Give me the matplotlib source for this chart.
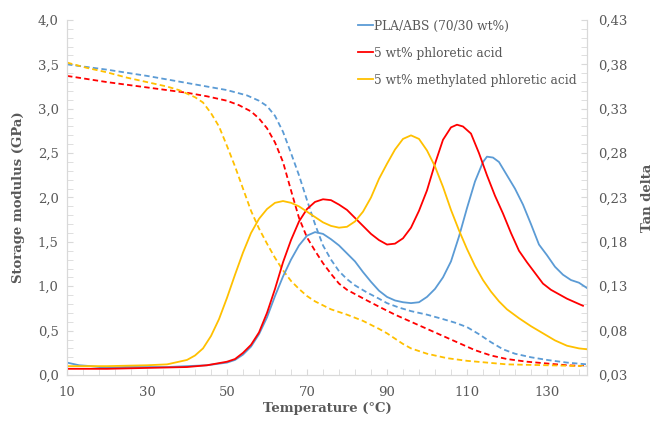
#Storage modulus and tan delta vs temperature (DMA)

import matplotlib
matplotlib.use("Agg")
import matplotlib.pyplot as plt
from matplotlib.ticker import MultipleLocator, FuncFormatter

#series names
labels = ["PLA/ABS (70/30 wt%)", "5 wt% phloretic acid", "5 wt% methylated phloretic acid"]
colors = ["#5B9BD5", "#FF0000", "#FFC000"]

#storage modulus (GPa) - dashed lines, left axis
T_E_blue = [10, 20, 30, 40, 45, 50, 55, 58, 60, 62, 64, 66, 68, 70, 72, 74, 76, 78, 80, 82, 85, 88, 90, 93, 96,
            100, 104, 107, 110, 113, 116, 119, 122, 126, 130, 135, 140]
E_blue = [3.50, 3.44, 3.37, 3.29, 3.25, 3.21, 3.15, 3.09, 3.03, 2.92, 2.74, 2.50, 2.25, 1.97, 1.70, 1.46, 1.30,
          1.17, 1.08, 1.01, 0.93, 0.86, 0.81, 0.76, 0.72, 0.68, 0.63, 0.59, 0.54, 0.46, 0.37, 0.29, 0.24, 0.20,
          0.17, 0.14, 0.12]

T_E_red = [10, 20, 30, 40, 45, 50, 53, 56, 58, 60, 62, 64, 66, 68, 70, 72, 74, 76, 78, 80, 85, 88, 92, 96, 100,
           104, 108, 112, 116, 120, 125, 130, 135, 140]
E_red = [3.37, 3.30, 3.24, 3.18, 3.14, 3.09, 3.04, 2.97, 2.89, 2.78, 2.62, 2.40, 2.08, 1.77, 1.55, 1.40, 1.26,
         1.14, 1.03, 0.96, 0.84, 0.77, 0.68, 0.60, 0.52, 0.44, 0.36, 0.28, 0.22, 0.18, 0.15, 0.13, 0.11, 0.10]

T_E_yellow = [10, 15, 20, 25, 30, 35, 38, 40, 42, 44, 46, 48, 50, 52, 54, 56, 58, 60, 62, 64, 66, 68, 70, 72, 76,
              80, 84, 88, 90, 92, 94, 96, 100, 105, 110, 115, 120, 130, 140]
E_yellow = [3.52, 3.46, 3.41, 3.35, 3.30, 3.25, 3.21, 3.17, 3.13, 3.07, 2.95, 2.80, 2.58, 2.35, 2.10, 1.85, 1.65,
            1.48, 1.32, 1.18, 1.06, 0.97, 0.89, 0.83, 0.74, 0.68, 0.61, 0.52, 0.47, 0.41, 0.35, 0.30, 0.24, 0.19,
            0.16, 0.14, 0.12, 0.11, 0.10]

#tan delta - solid lines, right axis
T_tan_blue = [10, 13, 16, 20, 25, 30, 35, 40, 45, 50, 52, 54, 56, 58, 60, 62, 64, 66, 68, 70, 72, 74, 76, 78, 80,
              82, 84, 86, 88, 90, 92, 94, 96, 98, 100, 102, 104, 106, 108, 110, 112, 114, 115, 116.5, 118, 120,
              122, 124, 126, 128, 130, 132, 134, 136, 138, 139, 140]
tan_blue = [0.044, 0.041, 0.040, 0.038, 0.039, 0.039, 0.039, 0.040, 0.041, 0.044, 0.047, 0.053, 0.062, 0.076,
            0.095, 0.119, 0.141, 0.160, 0.176, 0.187, 0.191, 0.189, 0.183, 0.176, 0.167, 0.158, 0.146, 0.135,
            0.125, 0.118, 0.114, 0.112, 0.111, 0.112, 0.118, 0.127, 0.140, 0.158, 0.186, 0.218, 0.248, 0.270,
            0.276, 0.275, 0.270, 0.255, 0.240, 0.222, 0.200, 0.177, 0.165, 0.152, 0.143, 0.137, 0.134, 0.131,
            0.128]

T_tan_red = [10, 20, 30, 40, 45, 50, 52, 54, 56, 58, 60, 62, 64, 66, 68, 70, 72, 74, 76, 78, 80, 82, 84, 86, 88,
             90, 92, 94, 96, 98, 100, 102, 104, 106, 107.5, 109, 111, 113, 115, 117, 119, 121, 123, 125, 127,
             129, 131, 133, 135, 137, 139]
tan_red = [0.037, 0.037, 0.038, 0.039, 0.041, 0.045, 0.048, 0.055, 0.064, 0.078, 0.100, 0.127, 0.157, 0.182,
           0.203, 0.217, 0.225, 0.228, 0.227, 0.222, 0.216, 0.207, 0.198, 0.189, 0.182, 0.177, 0.178, 0.184,
           0.196, 0.215, 0.238, 0.268, 0.295, 0.309, 0.312, 0.310, 0.302, 0.280, 0.255, 0.232, 0.212, 0.190,
           0.170, 0.157, 0.145, 0.133, 0.126, 0.121, 0.116, 0.112, 0.108]

T_tan_yellow = [10, 20, 30, 35, 38, 40, 42, 44, 46, 48, 50, 52, 54, 56, 58, 60, 62, 64, 66, 68, 70, 72, 74, 76,
                78, 80, 82, 84, 86, 88, 90, 92, 94, 96, 98, 100, 102, 104, 106, 108, 110, 112, 114, 116, 118,
                120, 123, 126, 129, 132, 135, 138, 140]
tan_yellow = [0.040, 0.040, 0.041, 0.042, 0.045, 0.047, 0.052, 0.060, 0.074, 0.093, 0.117, 0.143, 0.168, 0.190,
              0.206, 0.217, 0.224, 0.226, 0.224, 0.220, 0.214, 0.208, 0.202, 0.198, 0.196, 0.197, 0.203, 0.214,
              0.230, 0.251, 0.268, 0.284, 0.296, 0.300, 0.296, 0.283, 0.265, 0.242, 0.216, 0.193, 0.172, 0.153,
              0.137, 0.124, 0.113, 0.104, 0.094, 0.085, 0.077, 0.069, 0.063, 0.060, 0.059]

#fonts
plt.rcParams["font.family"] = "DejaVu Serif"
grey = "#595959"
spine = "#D9D9D9"

fig = plt.figure(figsize=(6.54, 4.25), dpi=100)
ax = fig.add_axes([0.1025, 0.1176, 0.795, 0.8354])
ax2 = ax.twinx()

#dashed storage modulus
dash = (0, (3, 1.8))
ax.plot(T_E_blue, E_blue, color=colors[0], linestyle=dash, linewidth=1.3)
ax.plot(T_E_red, E_red, color=colors[1], linestyle=dash, linewidth=1.3)
ax.plot(T_E_yellow, E_yellow, color=colors[2], linestyle=dash, linewidth=1.3)

#solid tan delta
ax2.plot(T_tan_blue, tan_blue, color=colors[0], linewidth=1.3, label=labels[0])
ax2.plot(T_tan_red, tan_red, color=colors[1], linewidth=1.3, label=labels[1])
ax2.plot(T_tan_yellow, tan_yellow, color=colors[2], linewidth=1.3, label=labels[2])

#axis limits and ticks
ax.set_xlim(10, 140)
ax.set_ylim(0, 4.0)
ax2.set_ylim(0.03, 0.43)
ax.set_xticks(list(range(10, 131, 20)))
ax.set_xticks(list(range(10, 141, 4)), minor=True)
ax.yaxis.set_major_locator(MultipleLocator(0.5))
ax.yaxis.set_minor_locator(MultipleLocator(0.1))
ax2.set_yticks([0.03, 0.08, 0.13, 0.18, 0.23, 0.28, 0.33, 0.38, 0.43])
ax2.set_yticks([0.03 + i * 0.01 for i in range(41)], minor=True)

#comma decimals
ax.yaxis.set_major_formatter(FuncFormatter(lambda v, p: f"{v:.1f}".replace(".", ",")))
ax2.yaxis.set_major_formatter(FuncFormatter(lambda v, p: f"{v:.2f}".replace(".", ",")))

for a in (ax, ax2):
    for s in a.spines.values():
        s.set_color(spine)
    a.spines["top"].set_visible(False)
    a.tick_params(which="both", direction="in", color=spine, labelcolor=grey, labelsize=9.5, length=4)
ax.tick_params(axis="x", pad=8)
ax.tick_params(axis="y", pad=6)
ax2.tick_params(axis="y", pad=8)

#labels
ax.set_xlabel("Temperature (°C)", fontsize=9.5, fontweight="bold", color=grey, labelpad=2)
ax.set_ylabel("Storage modulus (GPa)", fontsize=9.5, fontweight="bold", color=grey, labelpad=9)
ax2.set_ylabel("Tan delta", fontsize=9.5, fontweight="bold", color=grey, labelpad=10)

#legend
leg = ax2.legend(loc="upper left", bbox_to_anchor=(0.55, 1.015), frameon=False, fontsize=8.8,
                 handlelength=1.2, handletextpad=0.1, labelspacing=1.15, borderaxespad=0)
for t in leg.get_texts():
    t.set_color(grey)

plt.savefig("out.png", dpi=100)
